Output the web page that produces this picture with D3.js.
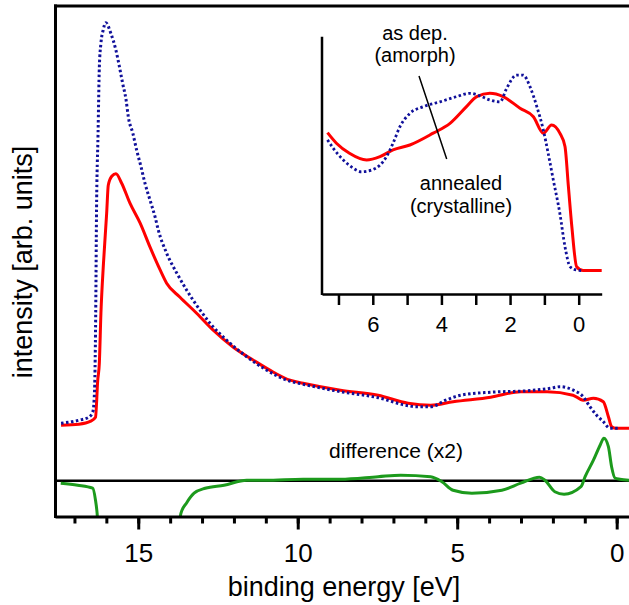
<!DOCTYPE html>
<html>
<head>
<meta charset="utf-8">
<script src="https://cdn.jsdelivr.net/npm/d3@7"></script>
<style>
  body { margin: 0; background: #fff; }
  svg { display: block; font-family: "Liberation Sans", Arial, Helvetica, sans-serif; }
</style>
</head>
<body>
<svg id="chart" width="629" height="605"></svg>
<script>
// main panel, binding energy [eV] vs intensity
const asDepE = [17.42, 16.86, 16.55, 16.42, 16.37, 16.33, 16.31, 16.26, 16.22, 16.17, 16.10, 16.02, 15.86, 15.70, 15.59, 15.49, 15.38, 15.31, 15.17, 15.05, 14.91, 14.79, 14.63, 14.47, 14.37, 14.11, 13.79, 13.48, 13.06, 12.75, 12.23, 11.60, 10.97, 10.34, 9.83, 8.66, 7.48, 6.54, 6.30, 5.83, 5.36, 4.89, 3.95, 2.78, 2.06, 1.78, 1.36, 1.05, 0.84, 0.63, 0.42, 0.21, -0.06];
const asDepI = [11.5, 12.1, 12.7, 13.9, 18.1, 36.1, 52.7, 69.5, 82.7, 87.5, 90.1, 91.6, 89.5, 86.1, 82.8, 79.5, 76.1, 72.7, 69.5, 66.1, 62.7, 59.5, 56.1, 52.7, 50.1, 45.5, 41.5, 38.1, 34.1, 31.5, 28.1, 24.8, 22.1, 20.1, 19.3, 17.8, 16.6, 15.0, 14.8, 14.8, 16.1, 17.1, 17.7, 18.0, 18.5, 18.8, 18.1, 16.8, 14.8, 13.1, 11.8, 10.5, 10.5];

const annealE = [17.42, 16.86, 16.49, 16.34, 16.27, 16.22, 16.17, 16.09, 15.99, 15.94, 15.83, 15.70, 15.52, 15.26, 14.94, 14.63, 14.31, 14.11, 13.69, 13.17, 12.65, 12.02, 11.39, 10.76, 10.24, 9.83, 8.66, 7.48, 6.54, 5.83, 5.13, 3.95, 3.01, 2.18, 1.37, 1.05, 0.73, 0.42, 0.26, 0.16, 0.05, -0.39];
const annealI = [11.1, 11.3, 11.9, 12.7, 20.1, 23.5, 33.5, 43.5, 53.5, 59.1, 60.9, 61.4, 59.5, 55.5, 51.5, 46.7, 42.1, 39.5, 36.7, 33.5, 30.1, 26.7, 24.1, 21.7, 20.1, 19.5, 18.1, 17.1, 15.5, 15.1, 15.8, 16.7, 17.8, 17.8, 17.1, 16.1, 16.5, 15.8, 12.8, 10.8, 10.5, 10.5];

// difference (x2), drawn about its own zero line
const diffE = [17.43, 16.90, 16.43, 16.34, 16.29, 16.22, 15.0, 14.0, 13.75, 13.66, 13.49, 13.25, 12.90, 12.31, 11.60, 11.01, 9.83, 8.66, 7.48, 6.77, 5.83, 5.48, 5.13, 4.54, 3.60, 3.01, 2.42, 2.25, 1.94, 1.65, 1.12, 0.99, 0.73, 0.52, 0.40, 0.26, 0.16, 0.05, -0.10, -0.39];
const diffI = [-0.5, -0.9, -1.5, -3.9, -6.5, -14, -40, -20, -10, -6.5, -4.5, -2.5, -1.5, -0.9, 0.1, 0.1, 0.3, 0.3, 0.8, 1.1, 0.8, -0.2, -1.9, -2.5, -1.9, -0.5, 0.7, 0.1, -2.2, -2.7, -1.2, 0.8, 4.1, 7.1, 8.5, 6.8, 2.8, 0.5, 0.3, 0.1];

// inset: valence band region
const insetAsDepE = [7.32, 7.15, 6.86, 6.57, 6.33, 6.03, 5.79, 5.60, 5.41, 5.21, 4.92, 4.53, 4.04, 3.56, 3.17, 2.88, 2.59, 2.29, 2.10, 1.81, 1.62, 1.42, 1.22, 1.03, 0.89, 0.74, 0.55, 0.40, 0.25, 0.06, -0.13];
const insetAsDepI = [59.9, 56.6, 52.1, 48.9, 47.5, 48.2, 50.1, 53.4, 58.6, 65.0, 70.2, 72.8, 74.7, 76.7, 78.0, 77.0, 75.4, 74.7, 79.9, 85.1, 85.1, 80.6, 72.8, 63.7, 54.7, 44.3, 31.4, 18.4, 10.6, 9.3, 9.1];
const insetAnnealE = [7.32, 7.06, 6.68, 6.18, 5.79, 5.41, 4.92, 4.24, 3.75, 3.27, 2.97, 2.59, 2.20, 1.71, 1.32, 1.03, 0.79, 0.55, 0.40, 0.30, 0.20, 0.06, -0.13, -0.67];
const insetAnnealI = [62.7, 58.6, 54.7, 52.1, 53.4, 56.0, 57.9, 62.5, 66.3, 72.8, 76.7, 78.0, 76.7, 72.2, 68.9, 62.5, 65.7, 62.5, 57.3, 41.7, 26.2, 10.6, 9.1, 9.1];

const mainTickLabels = [15, 10, 5, 0];
const insetTickLabels = [6, 4, 2, 0];

const blue = "#10109a", red = "#ff0000", green = "#1c9a1c";

const svg = d3.select("#chart");

const x = d3.scaleLinear().domain([17.61, -0.386]).range([55, 629]);
const y = d3.scaleLinear().domain([-7, 95]).range([515.7, 5.7]);

svg.append("clipPath").attr("id", "plotclip")
    .append("rect").attr("x", 55).attr("y", 6).attr("width", 574).attr("height", 510);

const plot = svg.append("g").attr("clip-path", "url(#plotclip)");

const mainLine = (E, I) => d3.line()
    .x((d, i) => x(E[i]))
    .y(d => y(d))
    .curve(d3.curveMonotoneX)(I);

// zero line for the difference
plot.append("line")
    .attr("x1", 55).attr("x2", 629)
    .attr("y1", y(0)).attr("y2", y(0))
    .attr("stroke", "#000").attr("stroke-width", 2.5);

plot.append("path").attr("d", mainLine(diffE, diffI))
    .attr("fill", "none").attr("stroke", green).attr("stroke-width", 3);
plot.append("path").attr("d", mainLine(annealE, annealI))
    .attr("fill", "none").attr("stroke", red).attr("stroke-width", 3);
plot.append("path").attr("d", mainLine(asDepE, asDepI))
    .attr("fill", "none").attr("stroke", blue).attr("stroke-width", 3)
    .attr("stroke-dasharray", "2.5,2.5");

// frame: left and top
svg.append("line").attr("x1", 55.5).attr("x2", 55.5).attr("y1", 4.5).attr("y2", 518)
    .attr("stroke", "#000").attr("stroke-width", 3);
svg.append("line").attr("x1", 54).attr("x2", 629).attr("y1", 6).attr("y2", 6)
    .attr("stroke", "#000").attr("stroke-width", 3);

// bottom axis
const axisY = 516.5;
const minorAx = svg.append("g").attr("transform", "translate(0," + axisY + ")")
    .call(d3.axisBottom(x).tickValues(d3.range(0, 18)).tickSize(7).tickSizeOuter(0).tickFormat(""));
minorAx.select(".domain").attr("stroke-width", 3);
minorAx.selectAll(".tick line").attr("stroke-width", 3);

const majorAx = svg.append("g").attr("transform", "translate(0," + axisY + ")")
    .call(d3.axisBottom(x).tickValues(mainTickLabels).tickSize(13).tickSizeOuter(0).tickPadding(14.5));
majorAx.select(".domain").remove();
majorAx.selectAll(".tick line").attr("stroke-width", 3);
majorAx.selectAll(".tick text").attr("font-size", 26).attr("font-family", "Liberation Sans, Arial, sans-serif").attr("fill", "#000");

svg.append("text")
    .attr("x", 344).attr("y", 596)
    .attr("text-anchor", "middle")
    .attr("font-size", 27)
    .text("binding energy [eV]");

svg.append("text")
    .attr("transform", "translate(32,262) rotate(-90)")
    .attr("text-anchor", "middle")
    .attr("font-size", 27)
    .text("intensity [arb. units]");

svg.append("text")
    .attr("x", 396).attr("y", 458)
    .attr("text-anchor", "middle")
    .attr("font-size", 21)
    .text("difference (x2)");

// inset
const xi = d3.scaleLinear().domain([7.48, -0.67]).range([322, 601.7]);
const yi = d3.scaleLinear().domain([0, 100]).range([294, 36.7]);

const insetLine = (E, I) => d3.line()
    .x((d, i) => xi(E[i]))
    .y(d => yi(d))
    .curve(d3.curveMonotoneX)(I);

const inset = svg.append("g");

inset.append("path").attr("d", insetLine(insetAnnealE, insetAnnealI))
    .attr("fill", "none").attr("stroke", red).attr("stroke-width", 3);
inset.append("path").attr("d", insetLine(insetAsDepE, insetAsDepI))
    .attr("fill", "none").attr("stroke", blue).attr("stroke-width", 2.8)
    .attr("stroke-dasharray", "2.5,2.5");

inset.append("line").attr("x1", 322).attr("x2", 322).attr("y1", 36.7).attr("y2", 295)
    .attr("stroke", "#000").attr("stroke-width", 2.5);

const insetAx = inset.append("g").attr("transform", "translate(0,294)")
    .call(d3.axisBottom(xi).tickValues(d3.range(0, 8)).tickSize(11).tickSizeOuter(0).tickPadding(11)
        .tickFormat(d => insetTickLabels.includes(d) ? d : ""));
insetAx.select(".domain").attr("stroke-width", 2.5);
insetAx.selectAll(".tick line").attr("stroke-width", 2.5);
insetAx.selectAll(".tick text").attr("font-size", 22).attr("font-family", "Liberation Sans, Arial, sans-serif").attr("fill", "#000");

// annotations (two-line labels)
inset.append("line").attr("x1", 419).attr("y1", 76).attr("x2", 446.7).attr("y2", 159)
    .attr("stroke", "#000").attr("stroke-width", 1.5);

const notes = [
    {lines: ["as dep.", "(amorph)"], x: 415, y: 39.5},
    {lines: ["annealed", "(crystalline)"], x: 461, y: 190}
];
const noteText = inset.selectAll(".note").data(notes).enter().append("text")
    .attr("class", "note")
    .attr("text-anchor", "middle")
    .attr("font-size", 20);
noteText.selectAll("tspan").data(d => d.lines.map((t, i) => ({t, i, x: d.x, y: d.y})))
    .enter().append("tspan")
    .attr("x", d => d.x)
    .attr("y", d => d.y + d.i * 22.6)
    .text(d => d.t);
</script>
</body>
</html>
